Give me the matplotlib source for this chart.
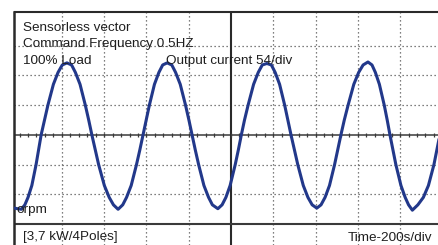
import matplotlib.pyplot as plt
import numpy as np

# scope trace (x: time divisions, y: current divisions)
time_div = [-5.13, -4.96, -4.875, -4.80, -4.71, -4.61, -4.55, -4.49, -4.41, -4.33,
            -4.20, -4.09, -3.99, -3.88, -3.77, -3.68, -3.57, -3.445, -3.365, -3.29,
            -3.21, -3.13, -2.995, -2.88, -2.78, -2.67, -2.56, -2.47, -2.36, -2.235,
            -2.155, -2.08, -2.005, -1.93, -1.81, -1.705, -1.615, -1.51, -1.40, -1.31,
            -1.20, -1.075, -0.995, -0.92, -0.845, -0.765, -0.64, -0.53, -0.44, -0.31,
            -0.21, -0.12, -0.02, 0.10, 0.175, 0.245, 0.32, 0.405, 0.535, 0.645,
            0.74, 0.85, 0.955, 1.045, 1.15, 1.27, 1.345, 1.42, 1.50, 1.58,
            1.71, 1.82, 1.92, 2.03, 2.13, 2.225, 2.33, 2.45, 2.525, 2.60,
            2.68, 2.77, 2.905, 3.02, 3.125, 3.24, 3.335, 3.415, 3.51, 3.625,
            3.695, 3.76, 3.83, 3.90, 4.02, 4.12, 4.20, 4.29, 4.42, 4.55,
            4.67, 4.80, 4.87, 4.94]
current_div = [-2.46, -2.50, -2.35, -2.10, -1.70, -1.00, -0.50, 0.00, 0.50, 1.00,
               1.70, 2.10, 2.35, 2.42, 2.35, 2.10, 1.70, 1.00, 0.50, 0.00,
               -0.50, -1.00, -1.70, -2.10, -2.35, -2.50, -2.35, -2.10, -1.70, -1.00,
               -0.50, 0.00, 0.50, 1.00, 1.70, 2.10, 2.35, 2.42, 2.35, 2.10,
               1.70, 1.00, 0.50, 0.00, -0.50, -1.00, -1.70, -2.10, -2.35, -2.48,
               -2.35, -2.10, -1.70, -1.00, -0.50, 0.00, 0.50, 1.00, 1.70, 2.10,
               2.35, 2.40, 2.35, 2.10, 1.70, 1.00, 0.50, 0.00, -0.50, -1.00,
               -1.70, -2.10, -2.35, -2.46, -2.35, -2.10, -1.70, -1.00, -0.50, 0.00,
               0.50, 1.00, 1.70, 2.10, 2.35, 2.45, 2.35, 2.10, 1.70, 1.00,
               0.50, 0.00, -0.50, -1.00, -1.70, -2.10, -2.35, -2.53, -2.35, -2.10,
               -1.70, -1.00, -0.50, 0.00]

x_grid = [-4, -3, -2, -1, 1, 2, 3, 4]
y_grid = [-2, -1, 1, 2, 3]

notes_top = ['Sensorless vector', 'Command Frequency 0.5HZ', '100% Load']
note_current = 'Output current 54/div'
note_speed = 'orpm'
note_motor = '[3,7 kW/4Poles]'
note_time = 'Time-200s/div'

plt.rcParams['font.family'] = ['Liberation Sans', 'DejaVu Sans']

W, H = 439, 245
fig = plt.figure(figsize=(W / 100, H / 100), dpi=100)
# axes frame: left border at x=14.5px, top border at y=11.7px, runs off right/bottom
ax = fig.add_axes([14.5 / W, 0, 1 - 14.5 / W, 1 - 11.7 / H])
ax.set_xlim(-5.12, 4.92)
ax.set_ylim(-3.70, 4.14)
ax.set_xticks([])
ax.set_yticks([])
for s in ['right', 'bottom']:
    ax.spines[s].set_visible(False)
ax.spines['left'].set_linewidth(1.8)
ax.spines['top'].set_linewidth(1.5)
ax.spines['left'].set_color('#2a2a2a')
ax.spines['top'].set_color('#2a2a2a')

dots = (0, (1, 2.2))
for x in x_grid:
    ax.axvline(x, color='#555555', lw=0.9, ls=dots, zorder=1)
for y in y_grid:
    ax.axhline(y, color='#555555', lw=0.9, ls=dots, zorder=1)

# centre cross and bottom line
ax.axhline(0, color='#3a3a3a', lw=1.1, zorder=2)
ax.axvline(0, color='#2a2a2a', lw=1.5, zorder=2)
ax.axhline(-3, color='#3a3a3a', lw=1.5, zorder=2)
minor = np.arange(-5, 4.9, 0.2)
ax.vlines(minor, -0.07, 0.07, color='#3a3a3a', lw=0.9, zorder=2)

ax.plot(time_div, current_div, color='#22388a', lw=2.2, zorder=3,
        solid_capstyle='round', solid_joinstyle='round')

tc = '#1e1e1e'
fs = 9.7
for txt, yb in zip(notes_top, [31, 47.5, 64.3]):
    fig.text(23 / W, 1 - yb / H, txt, fontsize=fs, color=tc, va='baseline')
fig.text(166 / W, 1 - 64.3 / H, note_current, fontsize=fs, color=tc, va='baseline')
fig.text(16 / W, 1 - 212.5 / H, note_speed, fontsize=fs, color=tc, va='baseline')
fig.text(23 / W, 1 - 240 / H, note_motor, fontsize=fs, color=tc, va='baseline')
fig.text(348 / W, 1 - 240.5 / H, note_time, fontsize=fs, color=tc, va='baseline')

fig.savefig('out.png', dpi=100)
